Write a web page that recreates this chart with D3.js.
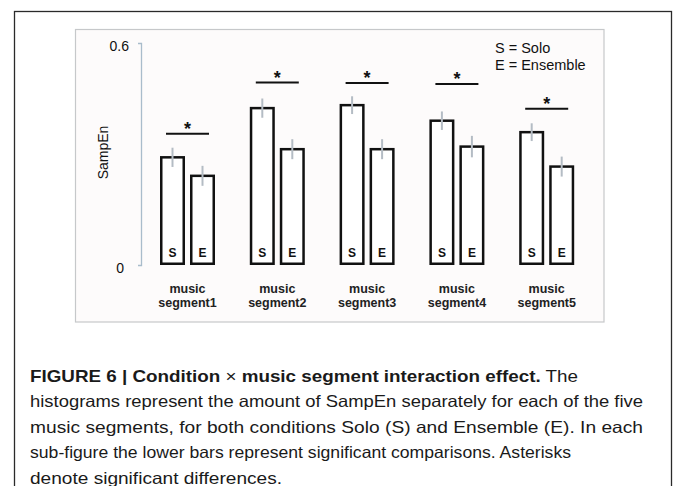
<!DOCTYPE html>
<html>
<head>
<meta charset="utf-8">
<script src="https://cdn.jsdelivr.net/npm/d3@7"></script>
<style>
  body { margin: 0; background: #fff; }
  svg { display: block; }
  text { font-family: "Liberation Sans", Arial, sans-serif; }
</style>
</head>
<body>
<svg id="chart" width="673" height="486"></svg>
<script>
// values
const segments = ['segment1', 'segment2', 'segment3', 'segment4', 'segment5'];
const conditions = ['S', 'E'];
const soloValues = [0.291, 0.424, 0.432, 0.390, 0.359];
const ensembleValues = [0.241, 0.313, 0.313, 0.320, 0.266];
const soloErrors = [0.026, 0.026, 0.024, 0.025, 0.024];
const ensembleErrors = [0.027, 0.027, 0.027, 0.029, 0.027];
const sigLevels = [0.355, 0.493, 0.492, 0.489, 0.422];
const yTicks = [0, 0.6];
const legendLines = ['S = Solo', 'E = Ensemble'];
const captionLines = [
  [{t: 'FIGURE 6 | Condition ', b: true}, {t: '\u00d7', b: false}, {t: ' music segment interaction effect.', b: true}, {t: ' The', b: false}],
  [{t: 'histograms represent the amount of SampEn separately for each of the five', b: false}],
  [{t: 'music segments, for both conditions Solo (S) and Ensemble (E). In each', b: false}],
  [{t: 'sub-figure the lower bars represent significant comparisons. Asterisks', b: false}],
  [{t: 'denote significant differences.', b: false}]
];
const captionWidths = [548, 613, 613, 541, 252];

const rows = segments.map(function(s, i) {
  return {
    seg: s,
    sig: sigLevels[i],
    bars: [
      {cond: 'S', v: soloValues[i], err: soloErrors[i]},
      {cond: 'E', v: ensembleValues[i], err: ensembleErrors[i]}
    ]
  };
});

const svg = d3.select('#chart');

// outer figure frame
svg.append('rect')
  .attr('x', 14.5).attr('y', 11.5)
  .attr('width', 657).attr('height', 520)
  .attr('fill', 'none')
  .attr('stroke', '#2a2a2a')
  .attr('stroke-width', 1.3);

// chart panel
svg.append('rect')
  .attr('x', 75.5).attr('y', 29.5)
  .attr('width', 528.5).attr('height', 292.5)
  .attr('fill', '#fdfbfb')
  .attr('stroke', '#c6c8ca')
  .attr('stroke-width', 1.2);

const y = d3.scaleLinear().domain([0, 0.6]).range([265, 43]);

const x0 = d3.scaleBand()
  .domain(segments)
  .range([160, 574.2])
  .paddingInner(0.3875)
  .paddingOuter(0);

const x1 = d3.scaleBand()
  .domain(conditions)
  .range([0, x0.bandwidth()])
  .paddingInner(1 / 6);

// y axis (bracket shaped)
const yAxis = svg.append('g')
  .attr('transform', 'translate(141,0)')
  .call(d3.axisLeft(y).tickValues(yTicks).tickFormat(d3.format('')).tickSizeInner(0).tickSizeOuter(3).tickPadding(12));
yAxis.select('.domain').attr('stroke', '#a9bccb').attr('stroke-width', 1.3);
yAxis.selectAll('.tick text')
  .attr('font-family', '"Liberation Sans", Arial, sans-serif')
  .attr('font-size', 14)
  .attr('fill', '#111')
  .attr('dy', '0.55em')
  .filter(function(d) { return d === 0; })
  .attr('x', -17);

svg.append('text')
  .attr('transform', 'translate(108,152.5) rotate(-90)')
  .attr('text-anchor', 'middle')
  .attr('font-size', 14)
  .attr('fill', '#111')
  .text('SampEn');

const group = svg.append('g').selectAll('g.seg')
  .data(rows)
  .enter().append('g')
  .attr('class', 'seg')
  .attr('transform', function(d) { return 'translate(' + x0(d.seg) + ',0)'; });

const sw = 2.5;

group.selectAll('rect.bar')
  .data(function(d) { return d.bars; })
  .enter().append('rect')
  .attr('class', 'bar')
  .attr('x', function(d) { return x1(d.cond) + sw / 2; })
  .attr('width', x1.bandwidth() - sw)
  .attr('y', function(d) { return y(d.v); })
  .attr('height', function(d) { return y(0) - y(d.v) - sw / 2; })
  .attr('fill', '#fff')
  .attr('stroke', '#111')
  .attr('stroke-width', sw);

// error bars
group.selectAll('line.err')
  .data(function(d) { return d.bars; })
  .enter().append('line')
  .attr('class', 'err')
  .attr('x1', function(d) { return x1(d.cond) + x1.bandwidth() / 2; })
  .attr('x2', function(d) { return x1(d.cond) + x1.bandwidth() / 2; })
  .attr('y1', function(d) { return y(d.v + d.err); })
  .attr('y2', function(d) { return y(d.v - d.err); })
  .attr('stroke', '#b4bcc4')
  .attr('stroke-width', 2);

// S / E letters inside bars
group.selectAll('text.cond')
  .data(function(d) { return d.bars; })
  .enter().append('text')
  .attr('class', 'cond')
  .attr('x', function(d) { return x1(d.cond) + x1.bandwidth() / 2; })
  .attr('y', 257)
  .attr('text-anchor', 'middle')
  .attr('font-size', 12)
  .attr('font-weight', 'bold')
  .attr('fill', '#111')
  .text(function(d) { return d.cond; });

// significance lines and asterisks
const mid = x0.bandwidth() / 2;
group.append('line')
  .attr('x1', mid - 21.5)
  .attr('x2', mid + 21.5)
  .attr('y1', function(d) { return y(d.sig); })
  .attr('y2', function(d) { return y(d.sig); })
  .attr('stroke', '#111')
  .attr('stroke-width', 2);

group.append('text')
  .attr('x', mid)
  .attr('y', function(d) { return y(d.sig) + 1; })
  .attr('text-anchor', 'middle')
  .attr('font-size', 18)
  .attr('font-weight', 'bold')
  .attr('fill', '#111')
  .text('*');

// category labels
group.append('text')
  .attr('x', mid)
  .attr('y', 293)
  .attr('text-anchor', 'middle')
  .attr('font-size', 12.5)
  .attr('font-weight', 'bold')
  .attr('fill', '#222')
  .text('music');

group.append('text')
  .attr('x', mid)
  .attr('y', 307)
  .attr('text-anchor', 'middle')
  .attr('font-size', 12.5)
  .attr('font-weight', 'bold')
  .attr('fill', '#222')
  .text(function(d) { return d.seg; });

// legend
svg.selectAll('text.legend')
  .data(legendLines)
  .enter().append('text')
  .attr('class', 'legend')
  .attr('x', 495)
  .attr('y', function(d, i) { return 53.3 + i * 16.7; })
  .attr('font-size', 14.5)
  .attr('fill', '#111')
  .text(function(d) { return d; });

// caption
const cap = svg.selectAll('text.caption')
  .data(captionLines)
  .enter().append('text')
  .attr('class', 'caption')
  .attr('x', 30)
  .attr('y', function(d, i) { return 382 + i * 25.4; })
  .attr('font-size', 16.5)
  .attr('fill', '#1a1a1a')
  .style('font-family', '"Liberation Sans Narrow", "Liberation Sans", Arial, sans-serif')
  .attr('textLength', function(d, i) { return captionWidths[i]; })
  .attr('lengthAdjust', 'spacingAndGlyphs');

cap.selectAll('tspan')
  .data(function(d) { return d; })
  .enter().append('tspan')
  .attr('font-weight', function(d) { return d.b ? 'bold' : 'normal'; })
  .text(function(d) { return d.t; });
</script>
</body>
</html>
